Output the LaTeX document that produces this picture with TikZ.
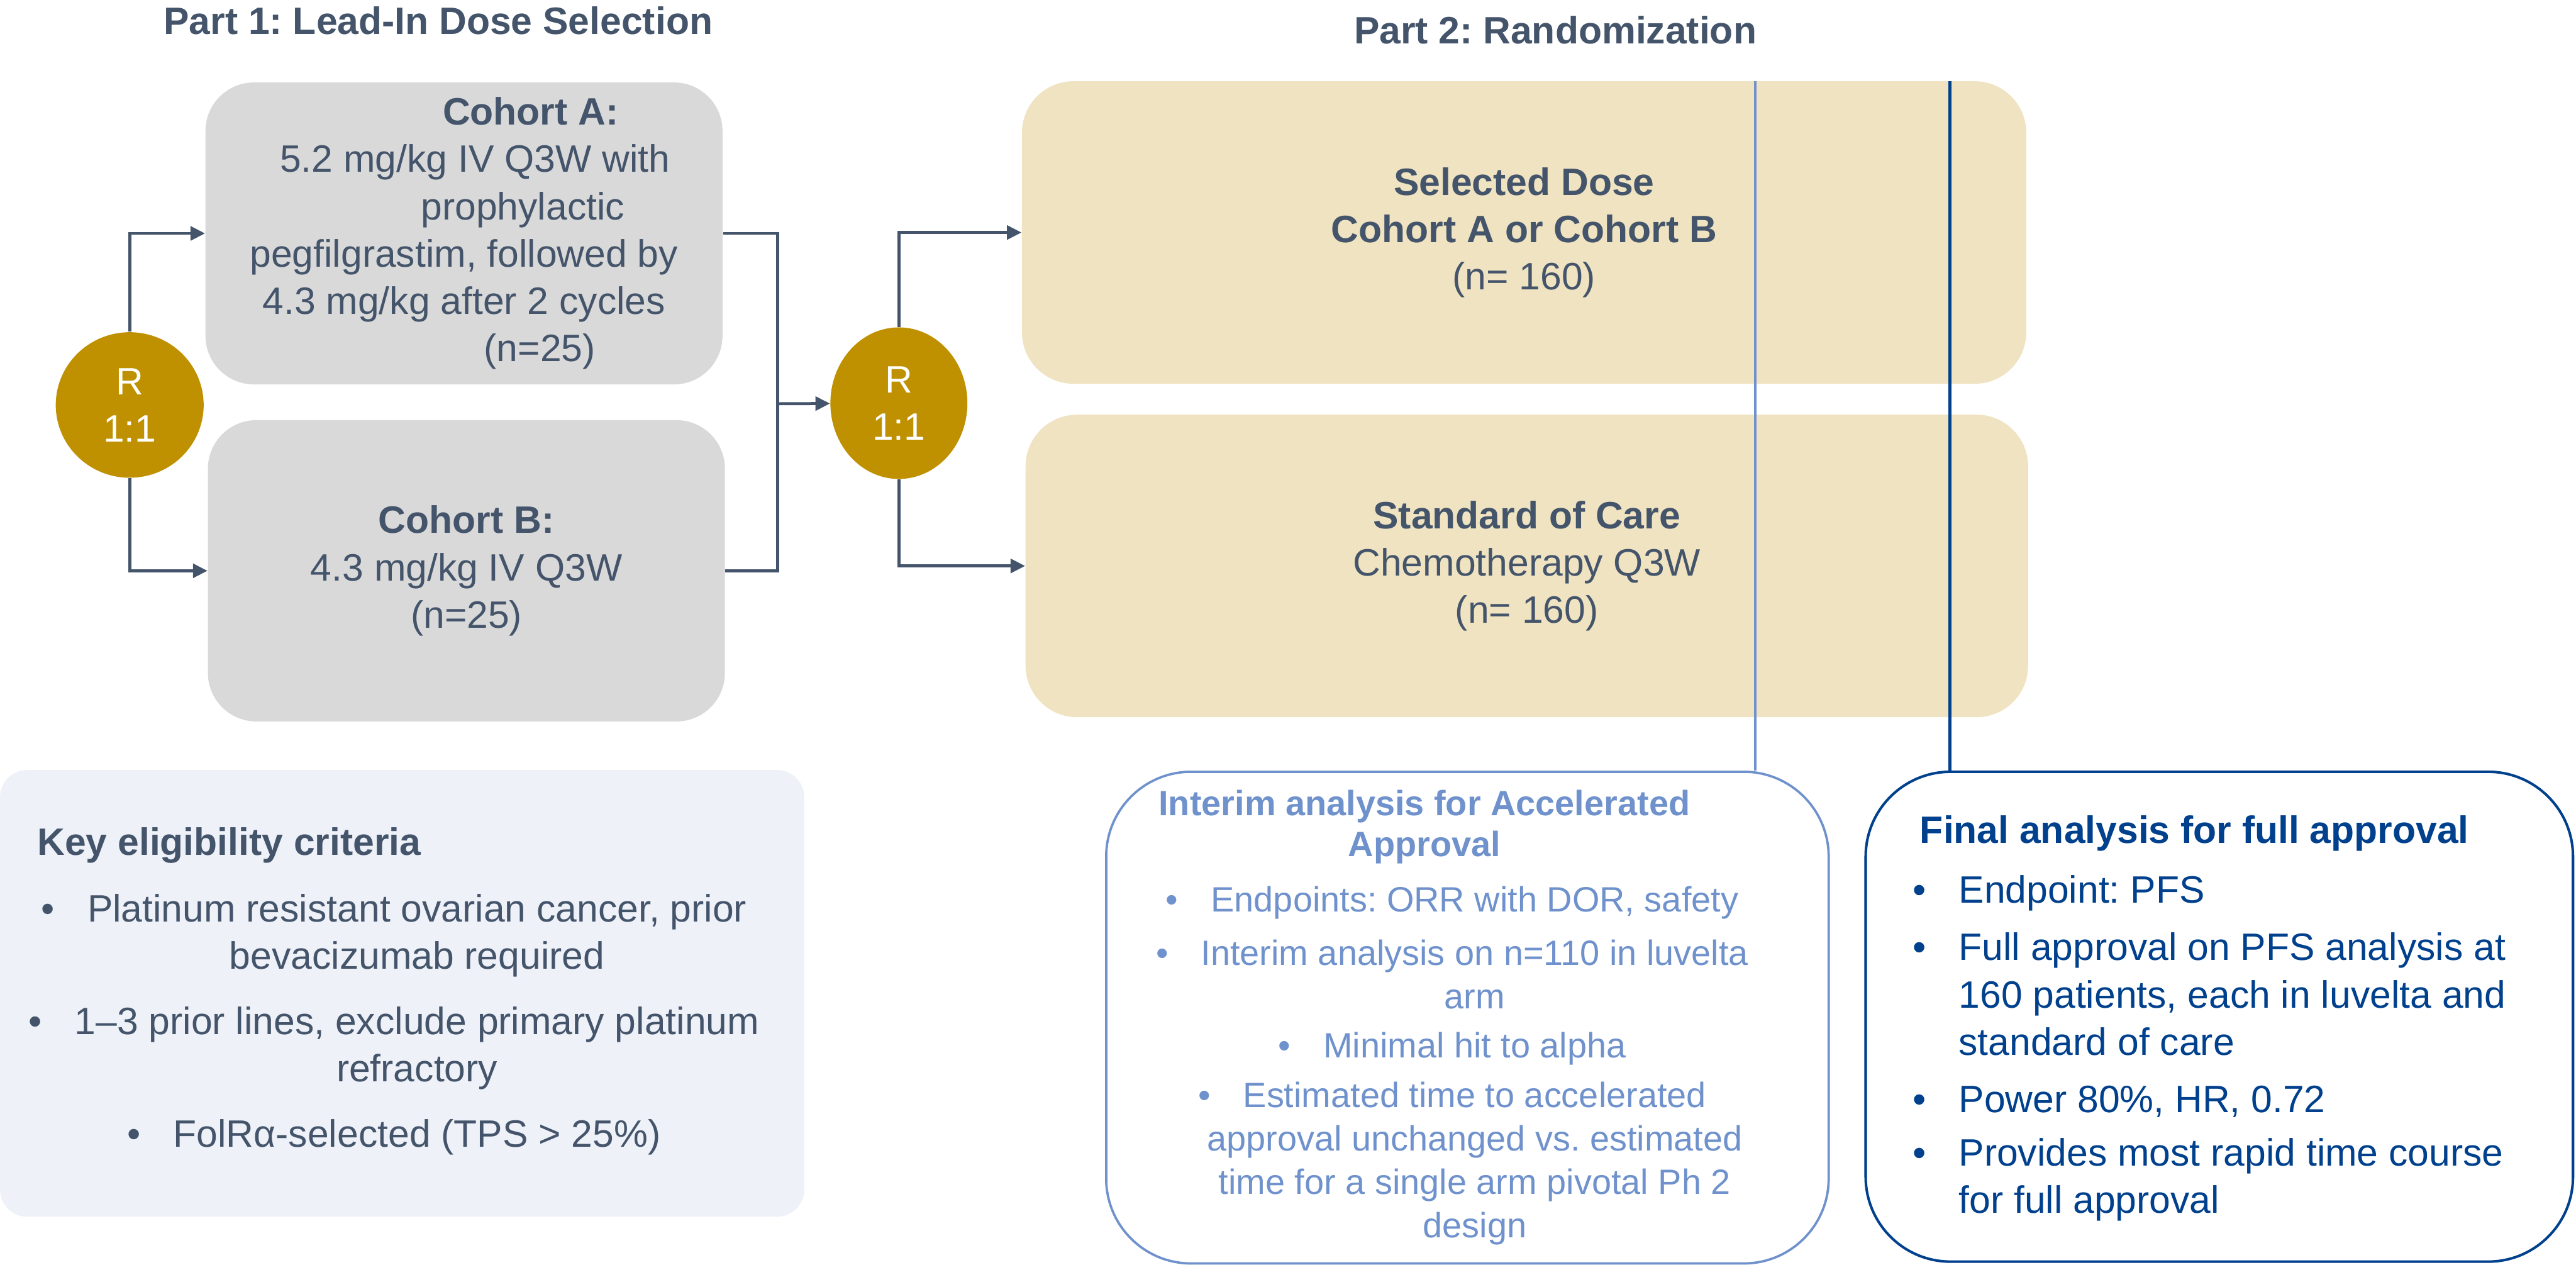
\documentclass[tikz,border=0pt]{standalone}
\usepackage{fontspec}
\setmainfont{Liberation Sans}
\frenchspacing
\definecolor{TRIslate}{HTML}{44546A}
\definecolor{TRIgold}{HTML}{BF9000}
\definecolor{TRIgray}{HTML}{D9D9D9}
\definecolor{TRItan}{HTML}{EFE3C1}
\definecolor{TRImist}{HTML}{EEF1F8}
\definecolor{TRIsky}{HTML}{6F91CC}
\definecolor{TRInavy}{HTML}{00408C}
\usetikzlibrary{arrows.meta, positioning, shapes.geometric}
\newcommand{\bigtxt}{\fontsize{17.9pt}{22.2pt}\selectfont}
\newcommand{\smalltxt}{\fontsize{16.5pt}{20.4pt}\selectfont}
\newcommand{\bul}{\llap{\textbullet\hspace{0.54cm}}}

\begin{document}
\begin{tikzpicture}[
      font=\bigtxt,
      armbox/.style={rounded corners=0.8cm, align=center, text=TRIslate, inner sep=0pt},
      rand/.style={ellipse, fill=TRIgold, text=white, align=center, inner sep=0pt},
      flow/.style={TRIslate, line width=1.4pt, -{Triangle[length=0.24cm, width=0.23cm]}},
      link/.style={TRIslate, line width=1.4pt},
      infobox/.style={rounded corners=1.4cm, line width=1.1pt}
   ]
      \useasboundingbox (0,0) rectangle (42.5,-20.86);
      % Part 1: lead-in cohorts
      \node[text=TRIslate, font=\bigtxt\bfseries] (title1) at (7.23,-0.34) {Part 1: Lead-In Dose Selection};
      \node[armbox, fill=TRIgray, minimum width=8.53cm, minimum height=4.98cm] (cohA) at (7.655,-3.85)
         {\hspace*{2.2cm}\textbf{Cohort A:}\\ \hspace*{0.36cm}5.2 mg/kg IV Q3W with\\ \hspace*{1.94cm}prophylactic\\
          pegfilgrastim, followed by\\ 4.3 mg/kg after 2 cycles\\ \hspace*{2.5cm}(n=25)};
      \node[armbox, fill=TRIgray, minimum width=8.53cm, minimum height=4.97cm] (cohB) at (7.695,-9.415)
         {\textbf{Cohort B:}\\4.3 mg/kg IV Q3W\\(n=25)};
      \node[rand, minimum width=2.44cm, minimum height=2.40cm] (r1) at (2.14,-6.68) {R\\1:1};
      \coordinate (join) at (12.83,-6.66);
      % Part 2: randomized arms
      \node[text=TRIslate, font=\bigtxt\bfseries] (title2) at (25.66,-0.50) {Part 2: Randomization};
      \node[rand, minimum width=2.26cm, minimum height=2.50cm] (r2) at (14.83,-6.65) {R\\1:1};
      \node[armbox, fill=TRItan, rounded corners=0.85cm, minimum width=16.57cm, minimum height=4.99cm] (sel) at (25.145,-3.835)
         {\textbf{Selected Dose}\\\textbf{Cohort A or Cohort B}\\(n= 160)};
      \node[armbox, fill=TRItan, rounded corners=0.85cm, minimum width=16.54cm, minimum height=4.99cm] (soc) at (25.19,-9.335)
         {\textbf{Standard of Care}\\Chemotherapy Q3W\\(n= 160)};
      % Eligibility
      \node[fill=TRImist, rounded corners=0.45cm, minimum width=13.27cm, minimum height=7.37cm] (keybox) at (6.635,-16.385) {};
      \node[anchor=west, text=TRIslate, font=\bigtxt\bfseries, inner sep=0pt] (keyhead) at (0.61,-13.94) {Key eligibility criteria};
      \node[align=center, text=TRIslate, inner sep=0pt] (keylist) at (6.88,-16.9)
         {\bul Platinum resistant ovarian cancer, prior\\ bevacizumab required\\[0.3cm]
          \bul 1–3 prior lines, exclude primary platinum\\ refractory\\[0.3cm]
          \bul FolRα-selected (TPS > 25\%)};
      % Analyses
      \node[infobox, draw=TRIsky, minimum width=11.92cm, minimum height=8.11cm] (interim) at (24.21,-16.785) {};
      \node[align=center, text=TRIsky, font=\smalltxt\bfseries, inner sep=0pt] (interimhead) at (23.5,-13.64)
         {Interim analysis for Accelerated\\[-0.04cm]Approval};
      \node[align=center, text=TRIsky, font=\smalltxt, inner sep=0pt] (interimlist) at (24.33,-17.58)
         {\bul Endpoints: ORR with DOR, safety\\[0.16cm]
          \bul Interim analysis on n=110 in luvelta\\ arm\\[0.1cm]
          \bul Minimal hit to alpha\\[0.1cm]
          \bul Estimated time to accelerated\\ approval unchanged vs. estimated\\ time for a single arm pivotal Ph 2\\ design};
      \node[infobox, draw=TRInavy, line width=1.2pt, minimum width=11.67cm, minimum height=8.08cm] (final) at (36.615,-16.77) {};
      \node[anchor=west, text=TRInavy, font=\bigtxt\bfseries, inner sep=0pt] (finalhead) at (31.67,-13.75) {Final analysis for full approval};
      \node[anchor=north west, align=left, text=TRInavy, inner sep=0pt] (finallist) at (32.31,-14.43)
         {\bul Endpoint: PFS\\[0.17cm]
          \bul Full approval on PFS analysis at\\ 160 patients, each in luvelta and\\ standard of care\\[0.17cm]
          \bul Power 80\%, HR, 0.72\\[0.1cm]
          \bul Provides most rapid time course\\ for full approval};
      % Timing markers
      \coordinate (iacut) at (28.96,-1.34);
      \coordinate (facut) at (32.17,-1.34);
      \draw[TRIsky, line width=1pt] (iacut) -- (iacut |- interim.north);
      \draw[TRInavy, line width=1.2pt] (facut) -- (facut |- final.north);
      % Arrows
      \draw[flow] (r1) |- (cohA);
      \draw[flow] (r1) |- (cohB);
      \draw[link] (cohA) -| (join);
      \draw[link] (cohB) -| (join);
      \draw[flow] (join) -- (r2);
      \draw[flow] (r2) |- (sel);
      \draw[flow] (r2) |- (soc);
   \end{tikzpicture}
\end{document}
